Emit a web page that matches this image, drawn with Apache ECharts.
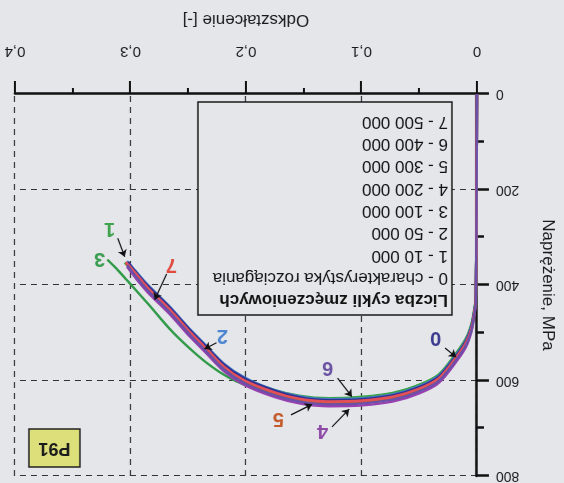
<!DOCTYPE html>
<html>
<head>
<meta charset="utf-8">
<script src="https://cdn.jsdelivr.net/npm/echarts@6/dist/echarts.min.js"></script>
<style>
  html, body { margin: 0; padding: 0; background: #e4e6ea; }
  /* the scanned figure is printed upside down */
  #main { width: 564px; height: 483px; transform: rotate(180deg); }
</style>
</head>
<body>
<div id="main"></div>
<script>
    var myChart = echarts.init(document.getElementById('main'));

    var bg = '#e4e6ea';

    // liczba cykli zmeczeniowych
    var curveNames = ['0 - charakterystyka rozciągania', '1 - 10 000', '2 - 50 000', '3 - 100 000',
                      '4 - 200 000', '5 - 300 000', '6 - 400 000', '7 - 500 000'];
    var curveColors = ['#2e3192', '#3aa64a', '#4a7cc9', '#2f9a48', '#9a40b0', '#c8602c', '#6b4fa8', '#e4505a'];
    var labelColors = ['#3b3b8f', '#3fa34d', '#4d86d1', '#3a9d4f', '#8e4aa6', '#c45a2c', '#6a52a2', '#e0493d'];

    // [odksztalcenie, naprezenie MPa]
    var curve0 = [[0,0],[0.001,428],[0.003,466],[0.005,489],[0.0095,517],[0.018,548],[0.033,592],[0.05,614],[0.073,631],[0.099,639],[0.128,641],[0.154,635],[0.175,621],[0.201,596],[0.219,567],[0.234,530],[0.249,493],[0.266,447],[0.286,399],[0.296,371],[0.302,352]];
    var curve1 = [[0,0],[0.001,424],[0.003,461],[0.005,484],[0.0095,512],[0.018,543],[0.033,587],[0.05,609],[0.073,626],[0.099,634],[0.128,637],[0.154,632],[0.175,620],[0.201,597],[0.219,569],[0.234,533],[0.249,496],[0.266,451],[0.286,404],[0.296,376],[0.305,353]];
    var curve2 = [[0,0],[0.001,426],[0.003,463],[0.005,487],[0.0095,515],[0.018,546],[0.033,590],[0.05,612],[0.073,629],[0.099,637],[0.128,639],[0.154,633],[0.175,620],[0.201,594],[0.219,565],[0.234,528],[0.249,491],[0.266,445],[0.286,397],[0.296,369],[0.303,350]];
    var curve3 = [[0,0],[0.001,424],[0.003,461],[0.005,484],[0.0095,512],[0.018,543],[0.033,588],[0.05,609],[0.073,627],[0.099,636],[0.128,640],[0.154,636],[0.175,627],[0.201,609],[0.219,588],[0.234,563],[0.249,532],[0.266,492],[0.286,436],[0.303,390],[0.312,366],[0.32,347]];
    var curve4 = [[0,0],[0.001,436],[0.003,475],[0.005,500],[0.0095,530],[0.018,561],[0.033,605],[0.05,627],[0.073,644],[0.099,652],[0.128,654],[0.154,648],[0.175,635],[0.201,610],[0.219,581],[0.234,544],[0.249,507],[0.266,461],[0.286,413],[0.296,384],[0.303,362]];
    var curve5 = [[0,0],[0.001,432],[0.003,470],[0.005,495],[0.0095,523],[0.018,554],[0.033,598],[0.05,620],[0.073,637],[0.099,645],[0.128,647],[0.154,641],[0.175,628],[0.201,603],[0.219,574],[0.234,537],[0.249,500],[0.266,454],[0.286,406],[0.296,377],[0.304,355]];
    var curve6 = [[0,0],[0.001,434],[0.003,472],[0.005,497],[0.0095,526],[0.018,557],[0.033,601],[0.05,623],[0.073,640],[0.099,648],[0.128,650],[0.154,644],[0.175,631],[0.201,606],[0.219,577],[0.234,540],[0.249,503],[0.266,457],[0.286,409],[0.296,380],[0.303,358]];
    var curve7 = [[0,0],[0.001,430],[0.003,468],[0.005,492],[0.0095,520],[0.018,551],[0.033,595],[0.05,617],[0.073,634],[0.099,642],[0.128,644],[0.154,638],[0.175,625],[0.201,600],[0.219,571],[0.234,534],[0.249,497],[0.266,451],[0.286,403],[0.296,374],[0.304,352]];
    var curves = [curve0, curve1, curve2, curve3, curve4, curve5, curve6, curve7];

    // opisy krzywych (numer) i strzalki, we wspolrzednych danych
    var labelPos = [[0.0357,509],[0.318,281],[0.2203,505],[0.3266,345],[0.1336,704],[0.1719,679],[0.1293,572],[0.2646,358]];
    var arrowPos = [
        [[0.0276,532],[0.0181,551]],
        [[0.311,302],[0.305,341]],
        [[0.2255,521],[0.2359,534]],
        null,
        [[0.1255,697],[0.1106,660]],
        [[0.161,672],[0.1428,650]],
        [[0.1207,595],[0.1083,634]],
        [[0.2687,377],[0.279,431]]
    ];

    // kolejnosc rysowania (ostatnia na wierzchu)
    var drawOrder = [3, 1, 4, 2, 0, 5, 7, 6];

    var series = drawOrder.map(function (i) {
        var s = {
            name: curveNames[i],
            type: 'line',
            data: curves[i],
            showSymbol: false,
            smooth: 0.3,
            lineStyle: { width: 2.4, color: curveColors[i] },
            itemStyle: { color: curveColors[i] },
            animation: false,
            markPoint: {
                symbol: 'circle',
                symbolSize: 1,
                itemStyle: { color: 'transparent' },
                label: {
                    show: true,
                    position: 'inside',
                    formatter: String(i),
                    color: labelColors[i],
                    fontSize: 20,
                    fontWeight: 'bold',
                    fontFamily: 'Liberation Sans'
                },
                data: [{ coord: labelPos[i] }]
            }
        };
        if (arrowPos[i]) {
            s.markLine = {
                silent: true,
                symbol: ['none', 'arrow'],
                symbolSize: 7,
                label: { show: false },
                lineStyle: { color: '#111', width: 1.2, type: 'solid' },
                data: [[{ coord: arrowPos[i][0] }, { coord: arrowPos[i][1] }]],
                animation: false
            };
        }
        return s;
    });

    // ramka z opisem krzywych
    var legendLines = [{
        type: 'text', left: 116, top: 175, z: 101,
        style: { text: 'Liczba cykli zmęczeniowych', fill: '#111', font: 'bold 17px "Liberation Sans"' }
    }];
    curveNames.forEach(function (n, k) {
        legendLines.push({
            type: 'text', left: 116, top: 197 + k * 22.3, z: 101,
            style: { text: n, fill: '#111', font: '17px "Liberation Sans"' }
        });
    });

    option = {
        backgroundColor: bg,
        textStyle: { fontFamily: 'Liberation Sans' },
        grid: { left: 86, right: 15, top: 7, bottom: 94 },
        xAxis: {
            type: 'value',
            min: 0, max: 0.4, interval: 0.1,
            name: 'Odkształcenie [-]',
            nameLocation: 'middle',
            nameGap: 66,
            nameTextStyle: { fontSize: 17, color: '#1a1a1a' },
            axisLine: { lineStyle: { color: '#111', width: 2.5 } },
            axisTick: { length: 13, lineStyle: { color: '#111', width: 2 } },
            minorTick: { show: true, splitNumber: 2, length: 6, lineStyle: { color: '#111', width: 2 } },
            splitLine: { show: true, lineStyle: { color: '#333', width: 1.2, type: [6, 5] } },
            axisLabel: {
                margin: 35, fontSize: 15, color: '#1a1a1a',
                formatter: function (v) { return v === 0 ? '0' : v.toFixed(1).replace('.', ','); }
            }
        },
        yAxis: {
            type: 'value',
            min: 0, max: 800, interval: 200,
            name: 'Naprężenie, MPa',
            nameLocation: 'middle',
            nameGap: 62,
            nameTextStyle: { fontSize: 17, color: '#1a1a1a' },
            axisLine: { show: true, lineStyle: { color: '#111', width: 2.5 } },
            axisTick: { show: true, length: 12, lineStyle: { color: '#111', width: 2.5 } },
            minorTick: { show: true, splitNumber: 2, length: 7, lineStyle: { color: '#111', width: 2.5 } },
            splitLine: { show: true, lineStyle: { color: '#333', width: 1.2, type: [6, 5] } },
            axisLabel: { margin: 19, fontSize: 14, color: '#1a1a1a' }
        },
        graphic: [{
            type: 'rect', z: 100,
            shape: { x: 112, y: 168, width: 254, height: 213 },
            style: { fill: bg, stroke: '#1a1a1a', lineWidth: 1.5 }
        }, {
            type: 'rect', z: 100,
            shape: { x: 484, y: 16, width: 51, height: 38 },
            style: { fill: '#dcdf7a', stroke: '#222', lineWidth: 1.5 }
        }, {
            type: 'text', z: 101, x: 509.5, y: 35,
            style: { text: 'P91', fill: '#1a1a1a', font: 'bold 18px "Liberation Sans"', align: 'center', verticalAlign: 'middle' }
        }].concat(legendLines),
        series: series
    };

    myChart.setOption(option);
</script>
</body>
</html>
